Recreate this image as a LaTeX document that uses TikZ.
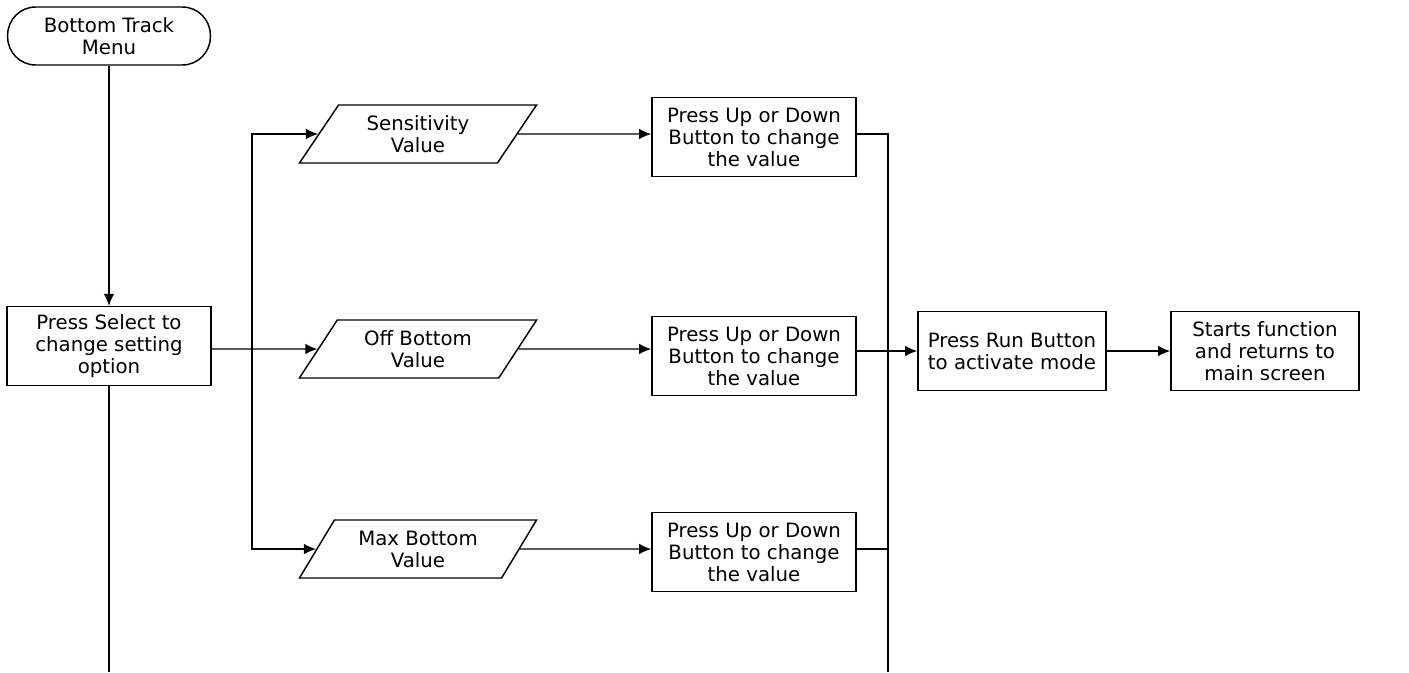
\documentclass[tikz,border=0pt]{standalone}
\usepackage{fontspec}
\setmainfont{DejaVu Sans}
\usetikzlibrary{arrows.meta,calc,positioning,shapes.geometric}

\begin{document}
\begin{tikzpicture}[
    x=0.75pt, y=-0.75pt,
    font=\fontsize{14.8}{16.5}\selectfont,
    line width=1.1pt,
    box/.style={draw, align=center, inner sep=2pt,
      minimum width=153pt, minimum height=59pt},
    terminal/.style={box, rounded corners=21pt, minimum height=43.5pt, minimum width=152pt},
    datain/.style={draw, align=center, trapezium, trapezium left angle=57,
      trapezium right angle=123, trapezium stretches=true,
      minimum width=178pt, minimum height=43.5pt, inner sep=1pt},
    wide/.style={box, minimum width=141pt},
    arrow/.style={-{Latex[length=3.2mm,width=2.8mm]}}
  ]
    \useasboundingbox (0,0) rectangle (1409,672);

    \node[terminal] (menu) at (109,36) {Bottom Track\\Menu};
    \node[box] (select) at (109,346) {Press Select to\\change setting\\option};

    \node[datain] (sens) at (418,134) {Sensitivity\\Value};
    \node[datain] (off) at (418,349) {Off Bottom\\Value};
    \node[datain] (max) at (418,549) {Max Bottom\\Value};

    \node[box] (upsens) at (754,137) {Press Up or Down\\Button to change\\the value};
    \node[box] (upoff) at (754,356) {Press Up or Down\\Button to change\\the value};
    \node[box] (upmax) at (754,552) {Press Up or Down\\Button to change\\the value};

    \node[wide] (run) at (1012,351) {Press Run Button\\to activate mode};
    \node[wide] (starts) at (1265,351) {Starts function\\and returns to\\main screen};

    % branch and join lines
    \coordinate (branch) at (252,349);
    \coordinate (jointop) at (888,134);
    \coordinate (joinmid) at (888,351);
    \coordinate (joinend) at (888,672);
    \coordinate (selectend) at (109,672);

    \draw[arrow] (menu) -- (select);
    \draw (select.south) -- (selectend);
    \draw[arrow] (select.east |- off) -- (off);
    \draw[arrow] (branch) |- (sens);
    \draw[arrow] (branch) |- (max);

    \draw[arrow] (sens) -- (sens -| upsens.west);
    \draw[arrow] (off) -- (off -| upoff.west);
    \draw[arrow] (max) -- (max -| upmax.west);

    \draw (upsens.east |- jointop) -- (jointop) -- (joinend);
    \draw (upoff.east |- joinmid) -- (joinmid);
    \draw (upmax.east |- max) -- (max -| joinend);

    \draw[arrow] (joinmid) -- (run);
    \draw[arrow] (run) -- (starts);
  \end{tikzpicture}
\end{document}
